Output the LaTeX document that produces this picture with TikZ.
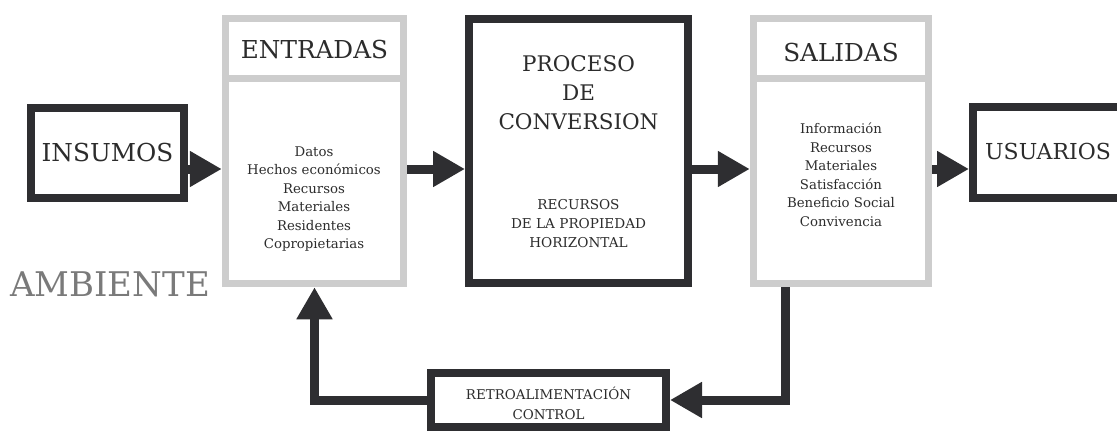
\documentclass[tikz,border=0pt]{standalone}
\usepackage{fontspec}
\setmainfont{DejaVu Serif}
\usetikzlibrary{arrows.meta}

\definecolor{boxdark}{HTML}{2E2E31}
\definecolor{boxgray}{HTML}{CDCDCD}
\definecolor{txtdark}{HTML}{2C2C2C}
\definecolor{txtgray}{HTML}{7A7A7A}

\tikzset{
  darkbox/.style={draw=boxdark,line width=8pt,fill=white,inner sep=0pt},
  lightbox/.style={draw=boxgray,line width=7.5pt,fill=white,inner sep=0pt},
  divider/.style={draw=boxgray,line width=7.5pt},
  flow/.style={draw=boxdark,line width=9pt,-{Triangle[length=32pt,width=34pt]}},
  title/.style={text=txtdark,align=center,font=\fontsize{24.7}{29}\selectfont},
  list/.style={text=txtdark,align=center,font=\fontsize{13.3}{18.5}\selectfont}
}

\begin{document}
\begin{tikzpicture}[x=1pt,y=-1pt]
\useasboundingbox (0,0) rectangle (1117,431);
\clip (0,0) rectangle (1117,431);

% boxes
\node[darkbox,minimum width=153pt,minimum height=90pt] (insumos) at (107.5,153) {};
\node[lightbox,minimum width=178pt,minimum height=265pt] (entbox) at (314.5,151) {};
\node[darkbox,minimum width=219pt,minimum height=264pt] (proceso) at (578.5,151) {};
\node[lightbox,minimum width=175pt,minimum height=265pt] (salbox) at (841,151) {};
\node[darkbox,minimum width=150pt,minimum height=91pt] (usuarios) at (1048,152.5) {};
\node[darkbox,minimum width=235pt,minimum height=54pt] (retro) at (548.5,400) {};

\coordinate (cut) at (0,78.5);
\draw[divider] (entbox.west |- cut) -- (entbox.east |- cut);
\draw[divider] (salbox.west |- cut) -- (salbox.east |- cut);

% texts
\node[title] (insumostxt) at (insumos) {INSUMOS};
\node[title] (enttitle) at (314.5,50) {ENTRADAS};
\node[list] (entlist) at (314,199) {Datos\\Hechos económicos\\Recursos\\Materiales\\Residentes\\Copropietarias};
\node[title,font=\fontsize{21.5}{29}\selectfont] (proctitle) at (578.5,93) {PROCESO\\DE\\CONVERSION};
\node[list,font=\fontsize{13.6}{19}\selectfont] (proclist) at (578.5,224) {RECURSOS\\DE LA PROPIEDAD\\HORIZONTAL};
\node[title] (saltitle) at (841,53) {SALIDAS};
\node[list] (sallist) at (841,175) {Información\\Recursos\\Materiales\\Satisfacción\\Beneficio Social\\Convivencia};
\node[title,font=\fontsize{22}{26}\selectfont] (usuariostxt) at (1048,151) {USUARIOS};
\node[list,font=\fontsize{13.4}{20}\selectfont] (retrotxt) at (548.5,403) {RETROALIMENTACIÓN\\CONTROL};
\node[text=txtgray,font=\fontsize{34}{38}\selectfont] (ambiente) at (110,284) {AMBIENTE};

% connectors
\coordinate (lvl) at (0,169);
\coordinate (fbr) at (785,0);
\draw[flow] (insumos.east |- lvl) -- (entbox.west |- lvl);
\draw[flow] (entbox.east |- lvl) -- (proceso.west |- lvl);
\draw[flow] (proceso.east |- lvl) -- (salbox.west |- lvl);
\draw[flow] (salbox.east |- lvl) -- (usuarios.west |- lvl);
\draw[flow] (salbox.south -| fbr) |- (retro.east);
\draw[flow] (retro.west) -| (entbox.south);
\end{tikzpicture}
\end{document}
